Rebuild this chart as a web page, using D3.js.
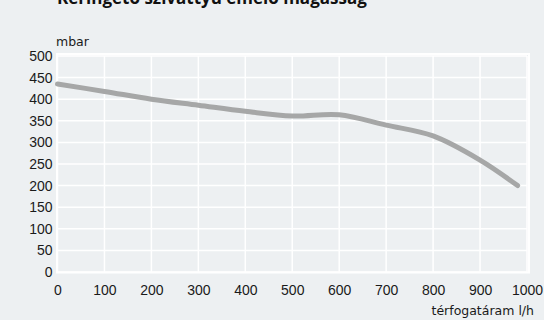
<!DOCTYPE html>
<html>
<head>
<meta charset="utf-8">
<script src="https://cdn.jsdelivr.net/npm/d3@7"></script>
<style>
  body { margin: 0; background: #edf0f2; }
  svg { display: block; font-family: "DejaVu Sans", sans-serif; }
  .tick text { fill: #1a1a1a; font-size: 14px; }
  .labels { fill: #1a1a1a; font-size: 12.5px; }
  .title { fill: #111; font-family: "Open Sans", sans-serif; font-size: 17px; font-weight: bold; }
</style>
</head>
<body>
<script>
// Curve: flow (l/h) and head (mbar)
var flow = [0, 100, 200, 300, 400, 500, 600, 700, 800, 900, 980];
var head = [435, 418, 400, 386, 372, 361, 364, 340, 315, 259, 200];

var xTicks = [0, 100, 200, 300, 400, 500, 600, 700, 800, 900, 1000];
var yTicks = [0, 50, 100, 150, 200, 250, 300, 350, 400, 450, 500];

var width = 544;
var height = 320;

var svg = d3.select("body").append("svg")
            .attr("width", width)
            .attr("height", height);

// Size plot
var paddingLeft = 57.5;
var paddingRight = 527;
var paddingTop = 56;
var paddingBottom = 272;

var xScale = d3.scaleLinear()
               .domain([0, 1000])
               .range([paddingLeft, paddingRight]);
var yScale = d3.scaleLinear()
               .domain([0, 500])
               .range([paddingBottom, paddingTop]);

// Grid lines
svg.append("g")
   .selectAll("line")
   .data(xTicks)
   .enter()
   .append("line")
   .attr("x1", function(d) { return xScale(d); })
   .attr("x2", function(d) { return xScale(d); })
   .attr("y1", yScale(500))
   .attr("y2", yScale(0))
   .style("stroke", "#fff")
   .style("stroke-width", 1.5);

svg.append("g")
   .selectAll("line")
   .data(yTicks)
   .enter()
   .append("line")
   .attr("x1", xScale(0))
   .attr("x2", xScale(1000))
   .attr("y1", function(d) { return yScale(d); })
   .attr("y2", function(d) { return yScale(d); })
   .style("stroke", "#fff")
   .style("stroke-width", 1.5);

// Frame round the plot
svg.append("rect")
   .attr("x", xScale(0) - 0.5)
   .attr("y", yScale(500) - 2)
   .attr("width", xScale(1000) - xScale(0) + 2.5)
   .attr("height", yScale(0) - yScale(500) + 2.5)
   .style("fill", "none")
   .style("stroke", "#fff")
   .style("stroke-width", 2);

// Axes (labels only)
var xAxis = d3.axisBottom(xScale).tickValues(xTicks).tickFormat(d3.format("d"))
              .tickSize(0).tickPadding(13);
var yAxis = d3.axisLeft(yScale).tickValues(yTicks).tickFormat(d3.format("d"))
              .tickSize(0).tickPadding(5);

svg.append("g")
   .attr("transform", "translate(0," + paddingBottom + ")")
   .call(xAxis)
   .call(function(g) { g.select(".domain").remove(); });

svg.append("g")
   .attr("transform", "translate(" + paddingLeft + ",0)")
   .call(yAxis)
   .call(function(g) { g.select(".domain").remove(); });

// Pump curve
var points = flow.map(function(d, i) { return [d, head[i]]; });
var line = d3.line()
             .x(function(d) { return xScale(d[0]); })
             .y(function(d) { return yScale(d[1]); })
             .curve(d3.curveCatmullRom.alpha(0.5));

svg.append("path")
   .datum(points)
   .attr("d", line)
   .style("fill", "none")
   .style("stroke", "#a6a7a7")
   .style("stroke-width", 5)
   .style("stroke-linecap", "round")
   .style("stroke-linejoin", "round");

// Labels
svg.append("text")
   .attr("class", "labels")
   .attr("x", 56)
   .attr("y", 46)
   .text("mbar");

svg.append("text")
   .attr("class", "labels")
   .attr("x", 534)
   .attr("y", 315)
   .attr("text-anchor", "end")
   .text("térfogatáram l/h");

// Title, cut off at the top as in the source
svg.append("text")
   .attr("class", "title")
   .attr("x", 57)
   .attr("y", 4)
   .text("Keringető szivattyú emelő magasság");
</script>
</body>
</html>
